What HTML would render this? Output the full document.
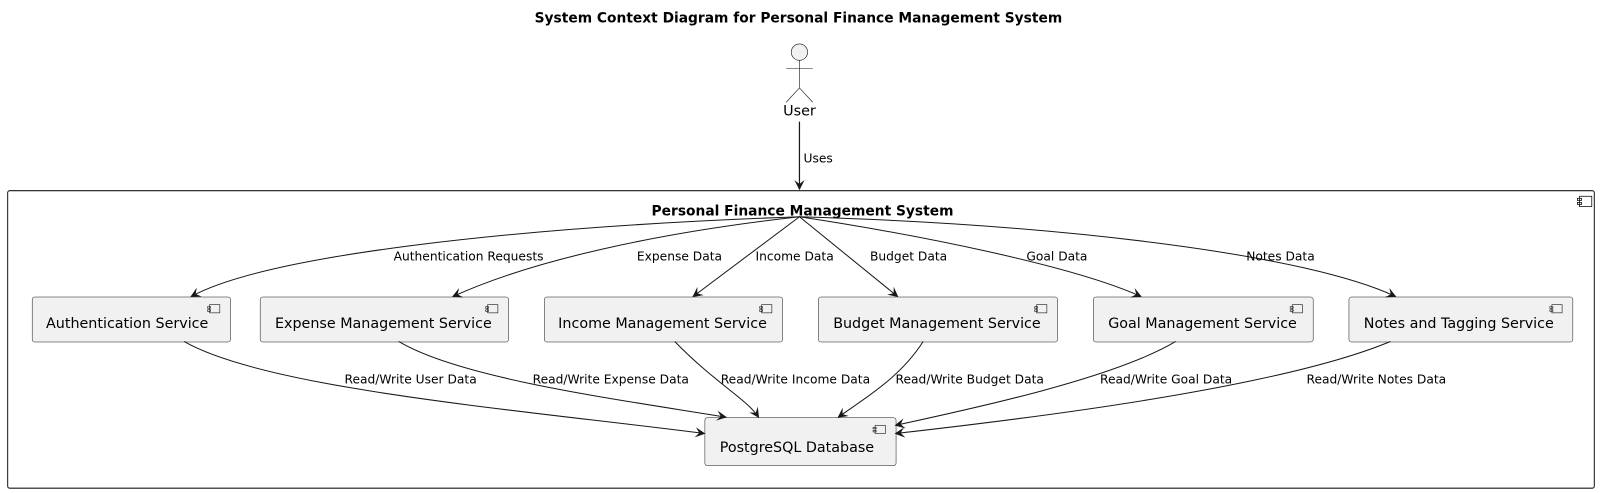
<!DOCTYPE html>
<html><head><meta charset="utf-8"><style>
html,body{margin:0;padding:0;background:#fff;width:1603px;height:493px;overflow:hidden}
svg{display:block}
svg text{font-family:"DejaVu Sans","Liberation Sans",sans-serif;fill:#000}
</style></head><body>
<svg width="1603" height="493" viewBox="0 0 1568 482.2" preserveAspectRatio="none" xmlns="http://www.w3.org/2000/svg">
<defs><marker id="a" viewBox="0 0 10 10" refX="9" refY="5" markerWidth="10" markerHeight="10" orient="auto" markerUnits="userSpaceOnUse"><path d="M0,0 L10,5 L0,10 L4,5 Z" fill="#181818"/></marker></defs>
<text x="781" y="22" text-anchor="middle" font-size="13.5" font-weight="bold">System Context Diagram for Personal Finance Management System</text>
<g stroke="#181818" stroke-width="0.6" fill="#f1f1f1">
<circle cx="782" cy="51" r="8"/>
<line x1="782" y1="59" x2="782" y2="86"/><line x1="769" y1="67" x2="795" y2="67"/>
<line x1="782" y1="86" x2="769" y2="100"/><line x1="782" y1="86" x2="795" y2="100"/>
</g>
<text x="782" y="113" text-anchor="middle" font-size="14">User</text>
<line x1="782" y1="119" x2="782" y2="185" stroke="#181818" stroke-width="1.2" marker-end="url(#a)"/>
<text x="786" y="159" font-size="12">Uses</text>
<rect x="7.5" y="186.5" width="1552" height="291" rx="2" fill="#fff" stroke="#181818"/>
<g fill="none" stroke="#181818" stroke-width="0.8"><rect x="1545" y="192" width="12" height="10"/><rect x="1543" y="194" width="4" height="2"/><rect x="1543" y="198" width="4" height="2"/></g>
<text x="785" y="211" text-anchor="middle" font-size="13.5" font-weight="bold">Personal Finance Management System</text>
<g fill="#f1f1f1" stroke="#181818" stroke-width="0.5">
<rect x="31.5" y="290.5" width="194" height="44" rx="2.5"/>
<rect x="254.5" y="290.5" width="243" height="44" rx="2.5"/>
<rect x="532.5" y="290.5" width="233" height="44" rx="2.5"/>
<rect x="800.5" y="290.5" width="234" height="44" rx="2.5"/>
<rect x="1069.5" y="290.5" width="215" height="44" rx="2.5"/>
<rect x="1319.5" y="290.5" width="219" height="44" rx="2.5"/>
<rect x="689.5" y="408.5" width="187" height="47" rx="2.5"/>
</g>
<g fill="none" stroke="#181818" stroke-width="0.6">
<g transform="translate(205,298)"><rect x="0" y="0" width="10" height="8"/><rect x="-2" y="2" width="3" height="1.5"/><rect x="-2" y="5" width="3" height="1.5"/></g>
<g transform="translate(477,298)"><rect x="0" y="0" width="10" height="8"/><rect x="-2" y="2" width="3" height="1.5"/><rect x="-2" y="5" width="3" height="1.5"/></g>
<g transform="translate(745,298)"><rect x="0" y="0" width="10" height="8"/><rect x="-2" y="2" width="3" height="1.5"/><rect x="-2" y="5" width="3" height="1.5"/></g>
<g transform="translate(1014,298)"><rect x="0" y="0" width="10" height="8"/><rect x="-2" y="2" width="3" height="1.5"/><rect x="-2" y="5" width="3" height="1.5"/></g>
<g transform="translate(1264,298)"><rect x="0" y="0" width="10" height="8"/><rect x="-2" y="2" width="3" height="1.5"/><rect x="-2" y="5" width="3" height="1.5"/></g>
<g transform="translate(1518,298)"><rect x="0" y="0" width="10" height="8"/><rect x="-2" y="2" width="3" height="1.5"/><rect x="-2" y="5" width="3" height="1.5"/></g>
<g transform="translate(856,416)"><rect x="0" y="0" width="10" height="8"/><rect x="-2" y="2" width="3" height="1.5"/><rect x="-2" y="5" width="3" height="1.5"/></g>
</g>
<g font-size="14">
<text x="45" y="321">Authentication Service</text>
<text x="269" y="321">Expense Management Service</text>
<text x="546" y="321">Income Management Service</text>
<text x="815" y="321">Budget Management Service</text>
<text x="1084" y="321">Goal Management Service</text>
<text x="1334" y="321">Notes and Tagging Service</text>
<text x="704" y="442">PostgreSQL Database</text>
</g>
<g fill="none" stroke="#181818" stroke-width="1" marker-end="url(#a)">
<path d="M782,212 C500,222 260,250 187,290"/>
<path d="M782,212 C640,228 520,255 443,290"/>
<path d="M782,212 L678,290"/>
<path d="M782,212 L878,290"/>
<path d="M782,212 C900,230 1050,260 1116,290"/>
<path d="M782,212 C1050,220 1280,250 1365,290"/>
<path d="M180,334 C260,380 500,400 689,424"/>
<path d="M390,334 C450,370 600,390 710,408"/>
<path d="M660,334 C700,375 730,390 742,408"/>
<path d="M903,334 C880,370 845,390 820,408"/>
<path d="M1150,334 C1090,370 950,400 876,416"/>
<path d="M1360,334 C1250,380 1000,410 876,424"/>
</g>
<g font-size="12">
<text x="385" y="255">Authentication Requests</text>
<text x="623" y="255">Expense Data</text>
<text x="739" y="255">Income Data</text>
<text x="851" y="255">Budget Data</text>
<text x="1004" y="255">Goal Data</text>
<text x="1219" y="255">Notes Data</text>
<text x="337" y="375">Read/Write User Data</text>
<text x="521" y="375">Read/Write Expense Data</text>
<text x="705" y="375">Read/Write Income Data</text>
<text x="876" y="375">Read/Write Budget Data</text>
<text x="1076" y="375">Read/Write Goal Data</text>
<text x="1278" y="375">Read/Write Notes Data</text>
</g>
</svg>
</body></html>
